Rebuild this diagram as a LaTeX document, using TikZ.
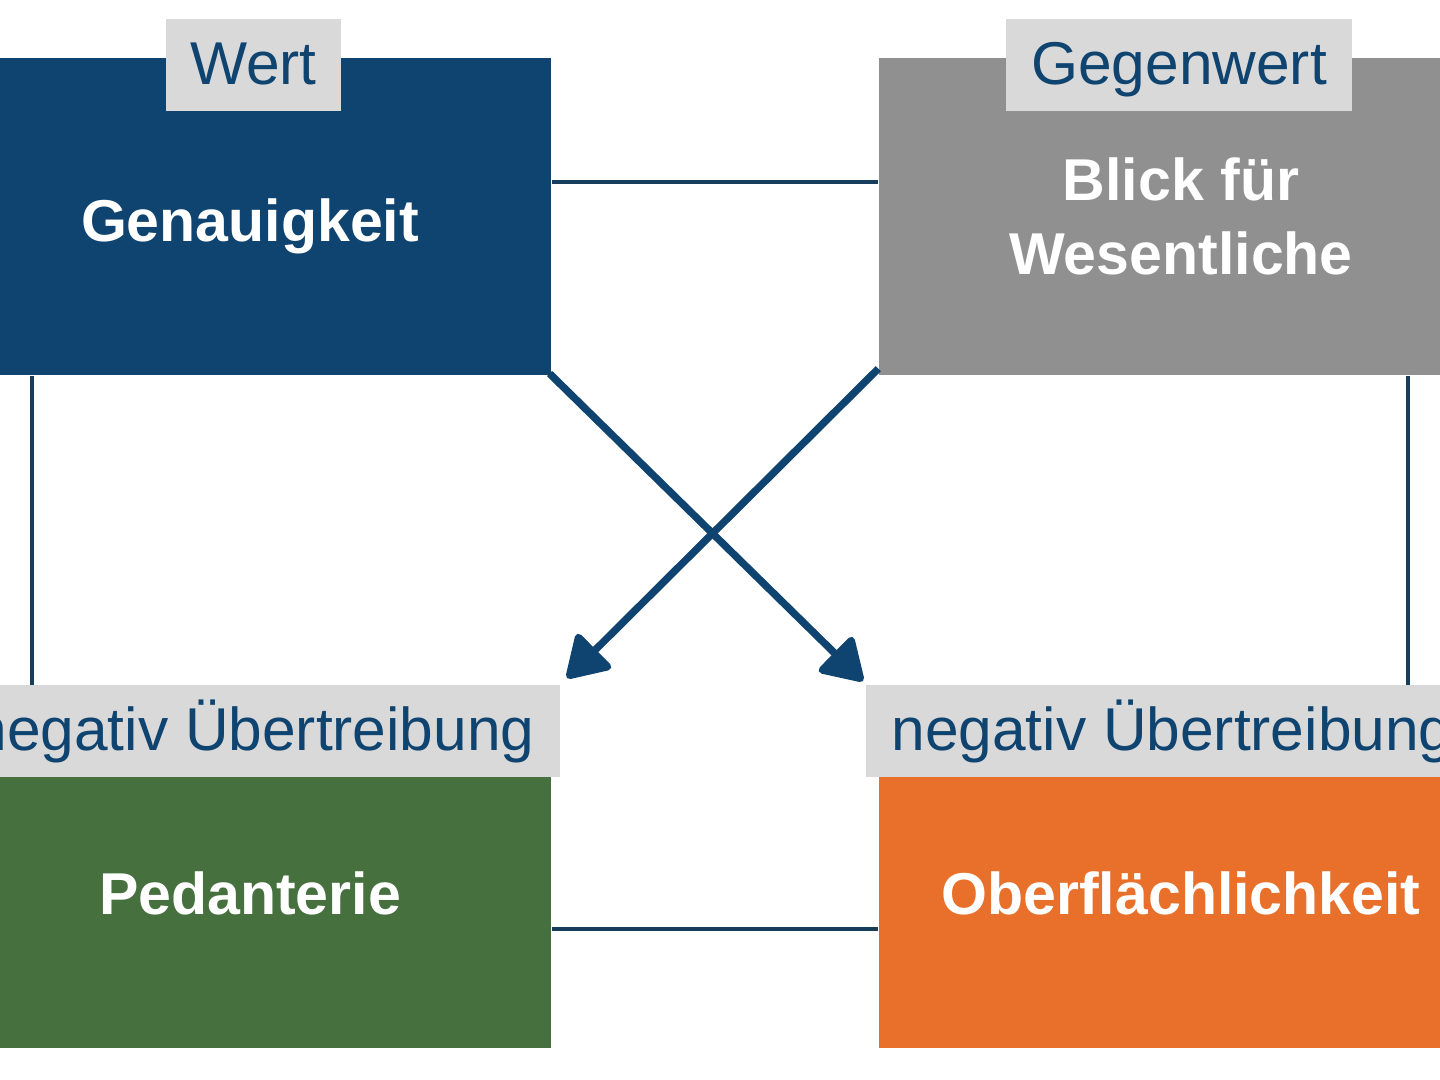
\documentclass[tikz,border=0pt]{standalone}
\usepackage{fontspec}
\setmainfont{Liberation Sans}
\usetikzlibrary{arrows.meta,positioning}
\definecolor{cblue}{HTML}{0F4470}
\definecolor{cgray}{HTML}{8F908F}
\definecolor{cgreen}{HTML}{47703F}
\definecolor{corange}{HTML}{E8702A}
\definecolor{clabel}{HTML}{D9D9D9}
\definecolor{cline}{HTML}{163D5C}
\tikzset{
  bigbox/.style={draw=none, inner sep=0pt, text=white, align=center,
    font=\fontsize{16.8}{21}\selectfont\bfseries},
  tagbox/.style={draw=none, fill=clabel, inner sep=0pt, text=cblue,
    text height=0.39cm, text depth=0cm,
    font=\fontsize{17.2}{20}\selectfont},
  thinline/.style={draw=cline, line width=1pt},
  bigarrow/.style={draw=cblue, line width=2.1pt,
    -{Triangle[length=12.5pt,width=15pt,round]}}
}
\begin{document}
\begin{tikzpicture}
\useasboundingbox (0,0) rectangle (14.4,-10.8);
\clip (0,0) rectangle (14.4,-10.8);
\fill[white] (0,0) rectangle (14.4,-10.8);

% main boxes
\node[bigbox, fill=cblue, minimum width=6.02cm, minimum height=3.17cm,
  text height=0.51cm, text depth=0cm] (gen) at (2.5,-2.165) {Genauigkeit};
\node[bigbox, fill=cgray, minimum width=6.04cm, minimum height=3.17cm] (blick) at (11.81,-2.165) {Blick für\\Wesentliche};
\node[bigbox, fill=cgreen, minimum width=6.02cm, minimum height=2.71cm,
  text height=0.3cm, text depth=0.27cm] (ped) at (2.5,-9.125) {Pedanterie};
\node[bigbox, fill=corange, minimum width=6.04cm, minimum height=2.71cm,
  text height=0.3cm, text depth=0.27cm] (ober) at (11.81,-9.125) {Oberflächlichkeit};

% tags
\node[tagbox, minimum width=1.75cm, minimum height=0.92cm] (wert) at (2.535,-0.655) {Wert};
\node[tagbox, minimum width=3.46cm, minimum height=0.92cm] (gegen) at (11.79,-0.655) {Gegenwert};
\node[tagbox, minimum width=6.12cm, minimum height=0.91cm] (negl) at (2.54,-7.31) {negativ Übertreibung};
\node[tagbox, minimum width=6.12cm, minimum height=0.91cm] (negr) at (11.72,-7.31) {negativ Übertreibung};

% thin connectors
\draw[thinline] ([yshift=0.345cm]gen.east) -- ([yshift=0.345cm]blick.west);
\draw[thinline] ([yshift=-0.165cm]ped.east) -- ([yshift=-0.165cm]ober.west);
\draw[thinline] (gen.south -| 0.32,0) -- (negl.north -| 0.32,0);
\draw[thinline] (blick.south -| 14.08,0) -- (negr.north -| 14.08,0);

% crossing arrows
\coordinate (tipR) at (8.63,-6.81);
\coordinate (tipL) at (5.67,-6.78);
\draw[bigarrow] ([xshift=-0.6pt,yshift=0.6pt]gen.south east) -- (tipR);
\draw[bigarrow] ([yshift=0.07cm]blick.south west) -- (tipL);
\end{tikzpicture}
\end{document}
